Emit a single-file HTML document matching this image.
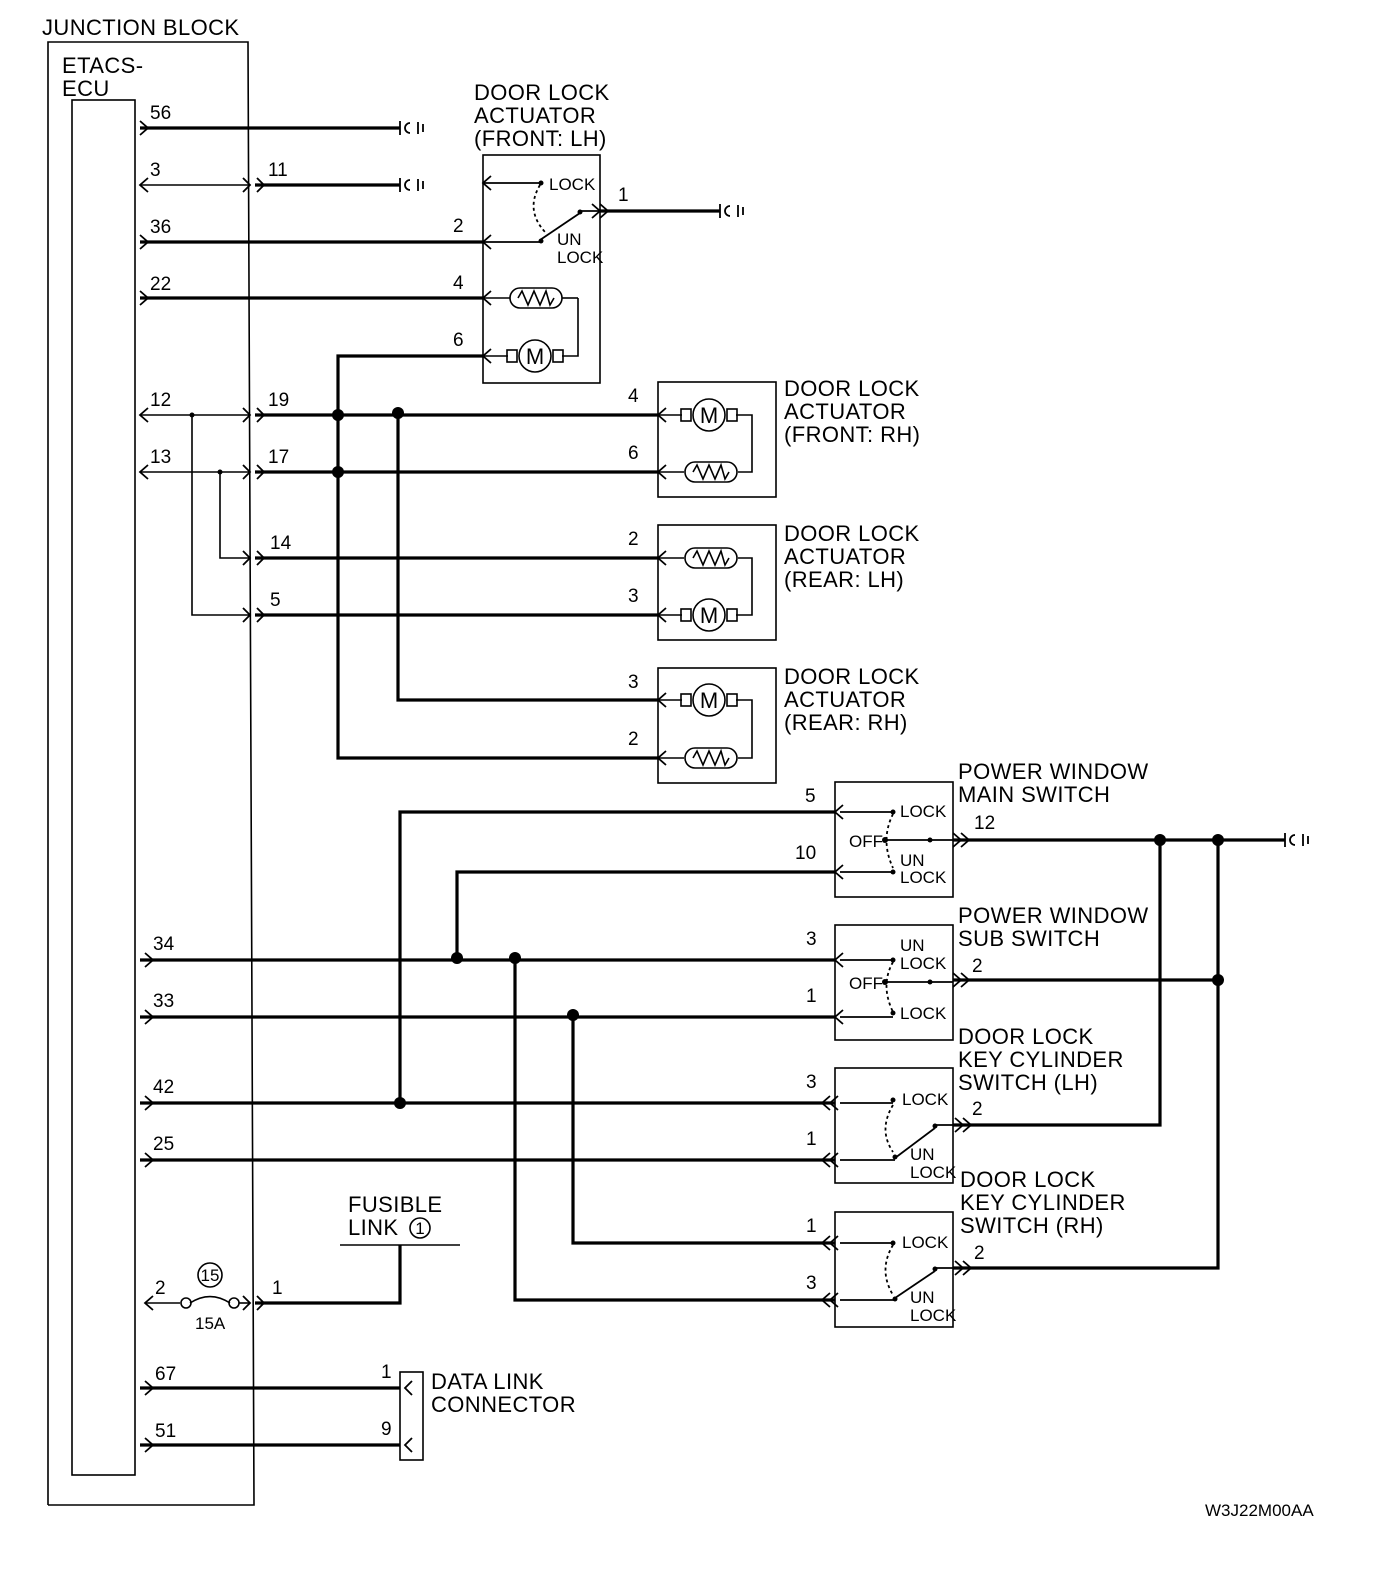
<!DOCTYPE html>
<html><head><meta charset="utf-8"><style>
html,body{margin:0;padding:0;background:#fff}
svg{display:block}
text{font-family:"Liberation Sans",sans-serif;fill:#000}
.l{font-size:22px;letter-spacing:0.4px}
.p{font-size:19px}
.s{font-size:17px}
</style></head><body>
<svg width="1392" height="1588" viewBox="0 0 1392 1588" xmlns="http://www.w3.org/2000/svg">
<g fill="none" stroke="#000" stroke-width="1.6">
<polyline points="48,1505 48,42 248,42 254,1505 48,1505"/>
<rect x="72" y="100" width="63" height="1375"/>
<rect x="483" y="155" width="117" height="228"/>
<rect x="658" y="382" width="118" height="115"/>
<rect x="658" y="525" width="118" height="115"/>
<rect x="658" y="668" width="118" height="115"/>
<rect x="835" y="782" width="118" height="115"/>
<rect x="835" y="925" width="118" height="115"/>
<rect x="835" y="1068" width="118" height="115"/>
<rect x="835" y="1212" width="118" height="115"/>
<rect x="400" y="1372" width="23" height="88"/>
<polyline points="192,415 192,615 250,615"/>
<polyline points="220,472 220,558 250,558"/>
<line x1="140" y1="415" x2="250" y2="415"/>
<line x1="140" y1="472" x2="250" y2="472"/>
<line x1="140" y1="185" x2="250" y2="185"/>
<line x1="145" y1="1303" x2="180" y2="1303"/>
<line x1="239" y1="1303" x2="250" y2="1303"/>
<path d="M190,1303 Q210,1290 230,1303"/>
<circle cx="186" cy="1303" r="5"/><circle cx="234" cy="1303" r="5"/>
<circle cx="210" cy="1275" r="12"/>
<line x1="340" y1="1245" x2="460" y2="1245"/>
<circle cx="420" cy="1228" r="10"/>
</g>
<g fill="none" stroke="#000" stroke-width="3.2">
<line x1="140" y1="128" x2="400" y2="128"/>
<line x1="255" y1="185" x2="400" y2="185"/>
<line x1="140" y1="242" x2="483" y2="242"/>
<line x1="140" y1="298" x2="483" y2="298"/>
<line x1="600" y1="211" x2="720" y2="211"/>
<line x1="255" y1="415" x2="658" y2="415"/>
<line x1="255" y1="472" x2="658" y2="472"/>
<line x1="255" y1="558" x2="658" y2="558"/>
<line x1="255" y1="615" x2="658" y2="615"/>
<polyline points="483,356 338,356 338,758 658,758"/>
<polyline points="398,413 398,700 658,700"/>
<polyline points="835,812 400,812 400,1103"/>
<polyline points="835,872 457,872 457,960"/>
<line x1="140" y1="960" x2="835" y2="960"/>
<line x1="140" y1="1017" x2="835" y2="1017"/>
<line x1="140" y1="1103" x2="835" y2="1103"/>
<line x1="140" y1="1160" x2="835" y2="1160"/>
<polyline points="515,960 515,1300 835,1300"/>
<polyline points="573,1017 573,1243 835,1243"/>
<line x1="953" y1="840" x2="1285" y2="840"/>
<line x1="953" y1="980" x2="1218" y2="980"/>
<polyline points="953,1125 1160,1125 1160,840"/>
<polyline points="953,1268 1218,1268 1218,840"/>
<polyline points="255,1303 400,1303 400,1245"/>
<line x1="140" y1="1388" x2="400" y2="1388"/>
<line x1="140" y1="1445" x2="400" y2="1445"/>
</g>
<g fill="#000">
<circle cx="338" cy="415" r="6"/><circle cx="398" cy="413" r="6"/><circle cx="338" cy="472" r="6"/>
<circle cx="457" cy="958" r="6"/><circle cx="515" cy="958" r="6"/><circle cx="573" cy="1015" r="6"/>
<circle cx="400" cy="1103" r="6"/><circle cx="1160" cy="840" r="6"/><circle cx="1218" cy="840" r="6"/><circle cx="1218" cy="980" r="6"/>
<circle cx="192" cy="415" r="2.5"/><circle cx="220" cy="472" r="2.5"/>
</g>
<g fill="none" stroke="#000" stroke-width="1.8">
<path d="M140,121 L148,128 L140,135 M140,235 L148,242 L140,249 M140,291 L148,298 L140,305 M145,953 L153,960 L145,967 M145,1010 L153,1017 L145,1024 M145,1096 L153,1103 L145,1110 M145,1153 L153,1160 L145,1167 M145,1381 L153,1388 L145,1395 M145,1438 L153,1445 L145,1452"/>
<path d="M148,178 L140,185 L148,192 M148,408 L140,415 L148,422 M148,465 L140,472 L148,479 M153,1296 L145,1303 L153,1310"/>
<path d="M243,178 L250,185 L243,192 M257,178 L264,185 L257,192 M243,408 L250,415 L243,422 M257,408 L264,415 L257,422 M243,465 L250,472 L243,479 M257,465 L264,472 L257,479 M243,551 L250,558 L243,565 M257,551 L264,558 L257,565 M243,608 L250,615 L243,622 M257,608 L264,615 L257,622 M243,1296 L250,1303 L243,1310 M257,1296 L264,1303 L257,1310"/>
<path d="M491,235 L483,242 L491,249 M491,291 L483,298 L491,305 M491,349 L483,356 L491,363 M491,176 L483,183 L491,190"/>
<path d="M666,408 L658,415 L666,422 M666,465 L658,472 L666,479 M666,551 L658,558 L666,565 M666,608 L658,615 L666,622 M666,693 L658,700 L666,707 M666,751 L658,758 L666,765"/>
<path d="M843,805 L835,812 L843,819 M843,865 L835,872 L843,879 M843,953 L835,960 L843,967 M843,1010 L835,1017 L843,1024"/>
<path d="M830,1096 L822,1103 L830,1110 M838,1096 L830,1103 L838,1110 M830,1153 L822,1160 L830,1167 M838,1153 L830,1160 L838,1167 M830,1236 L822,1243 L830,1250 M838,1236 L830,1243 L838,1250 M830,1293 L822,1300 L830,1307 M838,1293 L830,1300 L838,1307"/>
<path d="M592,204 L600,211 L592,218 M600,204 L608,211 L600,218 M953,833 L961,840 L953,847 M961,833 L969,840 L961,847 M953,973 L961,980 L953,987 M961,973 L969,980 L961,987 M955,1118 L963,1125 L955,1132 M963,1118 L971,1125 L963,1132 M955,1261 L963,1268 L955,1275 M963,1261 L971,1268 L963,1275"/>
<path d="M412,1381 L405,1388 L412,1395 M412,1438 L405,1445 L412,1452"/>
<path d="M400,121 L400,135 M410,123 A5,5 0 1 0 410,133 M418,122 L418,134 M423,124 L423,132"/>
<path d="M400,178 L400,192 M410,180 A5,5 0 1 0 410,190 M418,179 L418,191 M423,181 L423,189"/>
<path d="M720,204 L720,218 M730,206 A5,5 0 1 0 730,216 M738,205 L738,217 M743,207 L743,215"/>
<path d="M1285,833 L1285,847 M1295,835 A5,5 0 1 0 1295,845 M1303,834 L1303,846 M1308,836 L1308,844"/>
<line x1="483" y1="183" x2="540" y2="183"/><line x1="483" y1="242" x2="540" y2="242"/>
<line x1="540" y1="240" x2="580" y2="213"/><line x1="580" y1="211" x2="600" y2="211"/>
<path d="M540,185 Q525,210 545,232" stroke-dasharray="3,3"/>
<line x1="840" y1="812" x2="893" y2="812"/><line x1="840" y1="872" x2="893" y2="872"/>
<line x1="885" y1="840" x2="953" y2="840"/><path d="M893,814 Q880,840 893,868" stroke-dasharray="3,3"/>
<line x1="840" y1="960" x2="893" y2="960"/><line x1="840" y1="1017" x2="893" y2="1017"/>
<line x1="885" y1="982" x2="953" y2="982"/><path d="M893,962 Q880,985 893,1012" stroke-dasharray="3,3"/>
<line x1="840" y1="1103" x2="893" y2="1103"/><line x1="840" y1="1160" x2="895" y2="1160"/><line x1="895" y1="1158" x2="935" y2="1128"/><line x1="935" y1="1125" x2="953" y2="1125"/>
<path d="M893,1105 Q878,1130 893,1152" stroke-dasharray="3,3"/>
<line x1="840" y1="1243" x2="893" y2="1243"/><line x1="840" y1="1300" x2="895" y2="1300"/><line x1="895" y1="1298" x2="935" y2="1271"/><line x1="935" y1="1268" x2="953" y2="1268"/>
<path d="M893,1245 Q878,1270 893,1295" stroke-dasharray="3,3"/>
</g>
<g fill="#000">
<circle cx="541" cy="183" r="2.5"/><circle cx="541" cy="241" r="2.5"/><circle cx="580" cy="212" r="2.5"/>
<circle cx="893" cy="812" r="2.5"/><circle cx="893" cy="872" r="2.5"/><circle cx="885" cy="840" r="3"/><circle cx="930" cy="840" r="2.5"/>
<circle cx="893" cy="960" r="2.5"/><circle cx="893" cy="1013" r="2.5"/><circle cx="885" cy="982" r="3"/><circle cx="930" cy="982" r="2.5"/>
<circle cx="893" cy="1100" r="2.5"/><circle cx="895" cy="1157" r="2.5"/><circle cx="935" cy="1126" r="2.5"/>
<circle cx="893" cy="1243" r="2.5"/><circle cx="895" cy="1299" r="2.5"/><circle cx="935" cy="1269" r="2.5"/>
</g>
<defs>
<g id="mot" fill="none" stroke="#000" stroke-width="1.6"><rect x="-28" y="-6" width="10" height="12"/><rect x="18" y="-6" width="10" height="12"/><circle r="16" fill="#fff"/><text x="0" y="8" text-anchor="middle" font-size="22" stroke="none" fill="#000" style="font-family:'Liberation Sans',sans-serif">M</text></g>
<g id="res" fill="none" stroke="#000" stroke-width="1.6"><rect x="-26" y="-10" width="52" height="20" rx="10"/><path d="M-18,0 L-14,-7 L-8,7 L-2,-7 L4,7 L10,-7 L14,7 L18,0"/></g>
</defs>
<g fill="none" stroke="#000" stroke-width="1.6">
<line x1="483" y1="298" x2="510" y2="298"/><line x1="562" y1="298" x2="578" y2="298"/><polyline points="578,298 578,356 562,356"/><line x1="483" y1="356" x2="508" y2="356"/>
<line x1="658" y1="415" x2="682" y2="415"/><polyline points="736,415 752,415 752,472 738,472"/><line x1="658" y1="472" x2="684" y2="472"/>
<line x1="658" y1="558" x2="684" y2="558"/><polyline points="738,558 752,558 752,615 736,615"/><line x1="658" y1="615" x2="682" y2="615"/>
<line x1="658" y1="700" x2="682" y2="700"/><polyline points="736,700 752,700 752,758 738,758"/><line x1="658" y1="758" x2="684" y2="758"/>
</g>
<use href="#res" x="536" y="298"/><use href="#mot" x="535" y="356"/>
<use href="#mot" x="709" y="415"/><use href="#res" x="711" y="472"/>
<use href="#res" x="711" y="558"/><use href="#mot" x="709" y="615"/>
<use href="#mot" x="709" y="700"/><use href="#res" x="711" y="758"/>
<text class="l" x="42" y="35">JUNCTION BLOCK</text>
<text class="l" x="62" y="73">ETACS-</text><text class="l" x="62" y="96">ECU</text>
<text class="l" x="474" y="100">DOOR LOCK</text><text class="l" x="474" y="123">ACTUATOR</text><text class="l" x="474" y="146">(FRONT: LH)</text>
<text class="l" x="784" y="396">DOOR LOCK</text><text class="l" x="784" y="419">ACTUATOR</text><text class="l" x="784" y="442">(FRONT: RH)</text>
<text class="l" x="784" y="541">DOOR LOCK</text><text class="l" x="784" y="564">ACTUATOR</text><text class="l" x="784" y="587">(REAR: LH)</text>
<text class="l" x="784" y="684">DOOR LOCK</text><text class="l" x="784" y="707">ACTUATOR</text><text class="l" x="784" y="730">(REAR: RH)</text>
<text class="l" x="958" y="779">POWER WINDOW</text><text class="l" x="958" y="802">MAIN SWITCH</text>
<text class="l" x="958" y="923">POWER WINDOW</text><text class="l" x="958" y="946">SUB SWITCH</text>
<text class="l" x="958" y="1044">DOOR LOCK</text><text class="l" x="958" y="1067">KEY CYLINDER</text><text class="l" x="958" y="1090">SWITCH (LH)</text>
<text class="l" x="960" y="1187">DOOR LOCK</text><text class="l" x="960" y="1210">KEY CYLINDER</text><text class="l" x="960" y="1233">SWITCH (RH)</text>
<text class="l" x="348" y="1212">FUSIBLE</text><text class="l" x="348" y="1235">LINK</text><text class="s" x="420" y="1234" text-anchor="middle">1</text>
<text class="l" x="431" y="1389">DATA LINK</text><text class="l" x="431" y="1412">CONNECTOR</text>
<text class="s" x="1205" y="1516">W3J22M00AA</text>
<g class="p">
<text x="150" y="119">56</text><text x="150" y="176">3</text><text x="268" y="176">11</text><text x="150" y="233">36</text><text x="150" y="290">22</text>
<text x="150" y="406">12</text><text x="268" y="406">19</text><text x="150" y="463">13</text><text x="268" y="463">17</text>
<text x="270" y="549">14</text><text x="270" y="606">5</text>
<text x="453" y="232">2</text><text x="453" y="289">4</text><text x="453" y="346">6</text><text x="618" y="201">1</text>
<text x="628" y="402">4</text><text x="628" y="459">6</text><text x="628" y="545">2</text><text x="628" y="602">3</text><text x="628" y="688">3</text><text x="628" y="745">2</text>
<text x="805" y="802">5</text><text x="795" y="859">10</text><text x="974" y="829">12</text>
<text x="806" y="945">3</text><text x="806" y="1002">1</text><text x="972" y="972">2</text>
<text x="806" y="1088">3</text><text x="806" y="1145">1</text><text x="972" y="1115">2</text>
<text x="806" y="1232">1</text><text x="806" y="1289">3</text><text x="974" y="1259">2</text>
<text x="153" y="950">34</text><text x="153" y="1007">33</text><text x="153" y="1093">42</text><text x="153" y="1150">25</text>
<text x="155" y="1294">2</text><text x="272" y="1294">1</text>
<text x="155" y="1380">67</text><text x="155" y="1437">51</text><text x="381" y="1378">1</text><text x="381" y="1435">9</text>
</g>
<g class="s">
<text x="549" y="190">LOCK</text><text x="557" y="245">UN</text><text x="557" y="263">LOCK</text>
<text x="900" y="817">LOCK</text><text x="849" y="847">OFF</text><text x="900" y="866">UN</text><text x="900" y="883">LOCK</text>
<text x="900" y="951">UN</text><text x="900" y="969">LOCK</text><text x="849" y="989">OFF</text><text x="900" y="1019">LOCK</text>
<text x="902" y="1105">LOCK</text><text x="910" y="1160">UN</text><text x="910" y="1178">LOCK</text>
<text x="902" y="1248">LOCK</text><text x="910" y="1303">UN</text><text x="910" y="1321">LOCK</text>
<text x="210" y="1281" text-anchor="middle">15</text><text x="195" y="1329">15A</text>
</g>
</svg>
</body></html>
